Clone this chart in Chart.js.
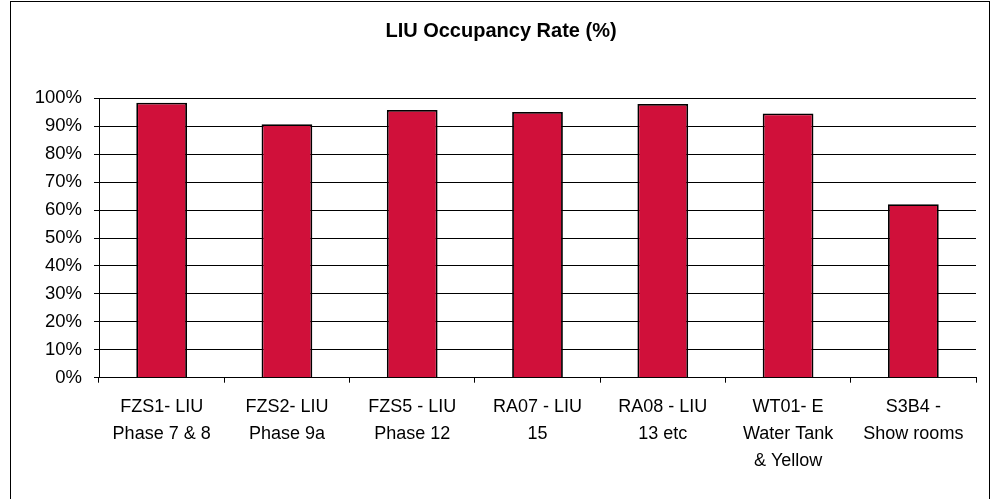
<!DOCTYPE html>
<html lang="en">

<head>
    <meta charset="UTF-8">
    <title>LIU Occupancy Rate (%)</title>
    <script src="https://cdn.jsdelivr.net/npm/chart.js"></script>
    <style>
        body {
            margin: 0;
            padding: 0;
            background: #ffffff;
        }

        .chart-container {
            width: 995px;
            height: 499px;
        }
    </style>
</head>

<body>

    <div class="chart-container">
        <canvas id="occupancyChart" width="995" height="499"></canvas>
    </div>

    <script>
        // Data
        const chartTitle = 'LIU Occupancy Rate (%)';
        const categories = [
            ['FZS1- LIU', 'Phase 7 & 8'],
            ['FZS2- LIU', 'Phase 9a'],
            ['FZS5 - LIU', 'Phase 12'],
            ['RA07 - LIU', '15'],
            ['RA08 - LIU', '13 etc'],
            ['WT01- E', 'Water Tank', '& Yellow'],
            ['S3B4 -', 'Show rooms']
        ];
        const occupancy = [98.4, 90.7, 95.8, 95.1, 98.0, 94.6, 62.1];
        const yTicks = [0, 10, 20, 30, 40, 50, 60, 70, 80, 90, 100];

        const fontFamily = "'Liberation Sans', Arial, sans-serif";

        // White background, outer frame and the title (centred on the frame, not the canvas)
        const frame = {
            id: 'frame',
            beforeDraw(chart) {
                const ctx = chart.ctx;
                ctx.save();
                ctx.fillStyle = '#ffffff';
                ctx.fillRect(0, 0, chart.width, chart.height);
                ctx.strokeStyle = '#000000';
                ctx.lineWidth = 1;
                ctx.strokeRect(10.5, 1.5, 979, 600);
                ctx.restore();
            },
            afterDraw(chart) {
                const ctx = chart.ctx;
                ctx.save();
                ctx.fillStyle = '#000000';
                ctx.font = 'bold 20px ' + fontFamily;
                ctx.textAlign = 'center';
                ctx.textBaseline = 'middle';
                ctx.fillText(chartTitle, 501, 31);
                ctx.restore();
            }
        };

        const ctx = document.getElementById('occupancyChart').getContext('2d');
        new Chart(ctx, {
            type: 'bar',
            data: {
                labels: categories,
                datasets: [{
                    label: chartTitle,
                    data: occupancy,
                    backgroundColor: '#D0103A',
                    borderColor: '#000000',
                    borderWidth: 1.8,
                    borderSkipped: 'bottom',
                    categoryPercentage: 1.0,
                    barPercentage: 0.405
                }]
            },
            options: {
                responsive: false,
                animation: false,
                layout: {
                    padding: { left: 11, right: 19, top: 98.3, bottom: 0 }
                },
                scales: {
                    x: {
                        offset: true,
                        grid: {
                            offset: true,
                            drawOnChartArea: false,
                            drawTicks: true,
                            tickLength: 5,
                            color: '#000000'
                        },
                        border: { color: '#000000', width: 1 },
                        ticks: {
                            color: '#000000',
                            padding: 11,
                            maxRotation: 0,
                            autoSkip: false,
                            font: { family: fontFamily, size: 18, lineHeight: '27px' }
                        },
                        afterFit(scale) {
                            scale.height = 121.3;
                        }
                    },
                    y: {
                        min: 0,
                        max: 100,
                        afterBuildTicks(scale) {
                            scale.ticks = yTicks.map(v => ({ value: v }));
                        },
                        grid: {
                            color: '#000000',
                            drawTicks: true,
                            tickLength: 5
                        },
                        border: { color: '#000000', width: 1 },
                        ticks: {
                            color: '#000000',
                            padding: 12,
                            font: { family: fontFamily, size: 18.5 },
                            callback: v => v + '%'
                        },
                        afterFit(scale) {
                            scale.width = 88;
                        }
                    }
                },
                plugins: {
                    legend: { display: false },
                    tooltip: { enabled: false },
                    title: { display: false }
                }
            },
            plugins: [frame]
        });
    </script>
</body>

</html>
